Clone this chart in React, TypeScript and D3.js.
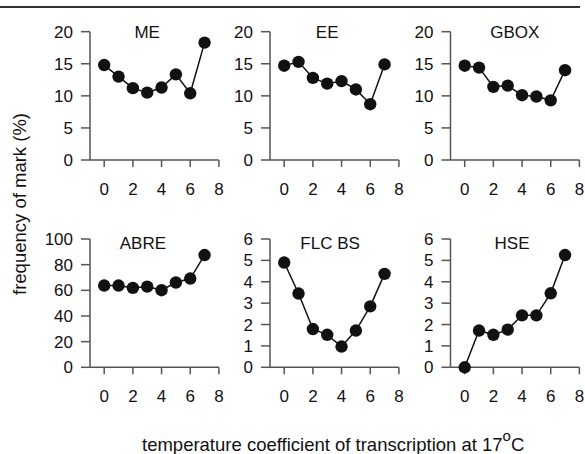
import * as d3 from "d3";

// x positions (temperature coefficient class)
const xValues = [0, 1, 2, 3, 4, 5, 6, 7];
const xTicks = [0, 2, 4, 6, 8];

// frequency of mark (%) per motif
const meValues = [14.8, 13.0, 11.2, 10.5, 11.3, 13.35, 10.4, 18.3];
const eeValues = [14.7, 15.3, 12.8, 11.9, 12.3, 11.0, 8.7, 14.9];
const gboxValues = [14.7, 14.4, 11.4, 11.6, 10.1, 9.9, 9.3, 14.0];
const abreValues = [63.7, 63.7, 61.9, 62.9, 60.1, 66.1, 69.2, 87.5];
const flcValues = [4.9, 3.45, 1.79, 1.52, 0.97, 1.72, 2.85, 4.37];
const hseValues = [0, 1.72, 1.52, 1.76, 2.43, 2.43, 3.46, 5.25];

const titles = ["ME", "EE", "GBOX", "ABRE", "FLC BS", "HSE"];
const yTicksSmall = [0, 5, 10, 15, 20];
const yTicksAbre = [0, 20, 40, 60, 80, 100];
const yTicksUnit = [0, 1, 2, 3, 4, 5, 6];

const series = [meValues, eeValues, gboxValues, abreValues, flcValues, hseValues];
const yTickSets = [yTicksSmall, yTicksSmall, yTicksSmall, yTicksAbre, yTicksUnit, yTicksUnit];

// layout
const W = 585;
const H = 454;
const colX = [90, 270, 450.5];
const rowTop = [31.7, 239];
const plotH = 128.3;
const xOffset = 14.2;
const xWidth = 114.7;
const titleX = [3, 3, 3.5, 2.7, 3.2, 3.3]; // in data units
const titleY = [31.5, 242.7];

const FONT = "'Liberation Sans', Arial, sans-serif";
const AXIS = "#555";

function Panel({ idx }: { idx: number }) {
  const col = idx % 3;
  const row = Math.floor(idx / 3);
  const ax = colX[col];
  const top = rowTop[row];
  const bottom = top + plotH;
  const ticksY = yTickSets[idx];
  const values = series[idx];

  const x = d3.scaleLinear().domain([0, 8]).range([ax + xOffset, ax + xOffset + xWidth]);
  const y = d3.scaleLinear().domain([0, d3.max(ticksY) as number]).range([bottom, top]);
  const line = d3.line<number>().x((_, i) => x(xValues[i])).y((d) => y(d));

  return (
    <g>
      {/* axes */}
      <line x1={ax} x2={ax} y1={top} y2={bottom} stroke={AXIS} strokeWidth={1.5} />
      <line x1={ax} x2={x(8)} y1={bottom} y2={bottom} stroke={AXIS} strokeWidth={1.5} />
      {ticksY.map((t) => (
        <g key={"y" + t}>
          <line x1={ax - 9} x2={ax} y1={y(t)} y2={y(t)} stroke={AXIS} strokeWidth={1.5} />
          <text x={ax - 17} y={y(t) + 6} textAnchor="end" fontSize={17} fill="#111">
            {t}
          </text>
        </g>
      ))}
      {xTicks.map((t) => (
        <g key={"x" + t}>
          <line x1={x(t)} x2={x(t)} y1={bottom} y2={bottom + 7} stroke={AXIS} strokeWidth={1.5} />
          <text x={x(t)} y={bottom + 35} textAnchor="middle" fontSize={17} fill="#111">
            {t}
          </text>
        </g>
      ))}
      <text x={x(titleX[idx])} y={titleY[row] + 6} textAnchor="middle" fontSize={17} fill="#111">
        {titles[idx]}
      </text>
      <path d={line(values) || ""} fill="none" stroke="#111" strokeWidth={1.5} />
      {values.map((v, i) => (
        <circle key={i} cx={x(xValues[i])} cy={y(v)} r={6.2} fill="#111" />
      ))}
    </g>
  );
}

export default function App() {
  return (
    <svg
      width={W}
      height={H}
      style={{ position: "absolute", left: 0, top: 0, background: "#fff" }}
      fontFamily={FONT}
    >
      <rect width={W} height={H} fill="#fff" />
      <line x1={0} x2={580} y1={7} y2={7} stroke="#333" strokeWidth={2} />
      {titles.map((_, i) => (
        <Panel key={i} idx={i} />
      ))}
      <text
        transform="translate(26,204) rotate(-90)"
        textAnchor="middle"
        fontSize={18.5}
        fill="#111"
      >
        frequency of mark (%)
      </text>
      <text x={142} y={450.5} fontSize={18.5} fill="#111">
        temperature coefficient of transcription at 17
        <tspan dy={-10} fontSize={15}>o</tspan>
        <tspan dy={10} fontSize={18.5}>C</tspan>
      </text>
    </svg>
  );
}
